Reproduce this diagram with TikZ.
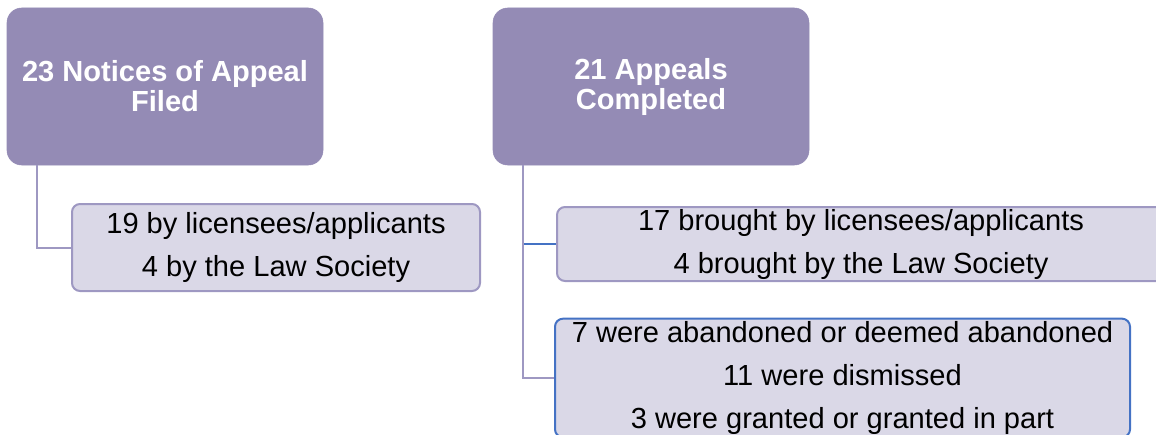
\documentclass[tikz,border=0pt]{standalone}
\usepackage{fontspec}
\setmainfont{Liberation Sans}
\definecolor{headfill}{RGB}{148,139,181}
\definecolor{subfill}{RGB}{218,216,231}
\definecolor{subline}{RGB}{158,152,194}
\definecolor{linkblue}{RGB}{68,114,196}
\tikzset{
	headbox/.style={fill=headfill, draw=headfill, rounded corners=11pt, text=white, align=center, inner sep=0pt,
		font=\fontsize{21.8}{22.5}\selectfont\bfseries, minimum width=237pt, minimum height=117.75pt},
	subbox/.style={fill=subfill, draw=subline, line width=1.5pt, rounded corners=6pt, align=center, inner sep=0pt,
		font=\fontsize{21.8}{32.25}\selectfont},
	link/.style={draw=subline, line width=1.5pt},
	bluelink/.style={draw=linkblue, line width=1.5pt}
}
\begin{document}
\begin{tikzpicture}[x=0.75pt, y=-0.75pt]
	\useasboundingbox (0,0) rectangle (1156,435);
	\node[headbox] (filed) at (165,86.5) {23 Notices of Appeal\\Filed};
	\node[headbox] (done) at (651,86.5) {21 Appeals\\Completed};
	\node[subbox, minimum width=306pt, minimum height=65.25pt] (filedby) at (276,247.5) {19 by licensees/applicants\\4 by the Law Society};
	\node[subbox, minimum width=456pt, minimum height=55.5pt] (doneby) at (861,244) {17 brought by licensees/applicants\\4 brought by the Law Society};
	\node[subbox, draw=linkblue, minimum width=431.25pt, minimum height=89pt] (outcome) at (842.5,378) {7 were abandoned or deemed abandoned\\11 were dismissed\\3 were granted or granted in part};
	\draw[link] ([xshift=22.5pt]filed.south west) |- (filedby.west);
	\draw[bluelink] ([xshift=22.5pt]done.south west) |- (doneby.west);
	\draw[link] ([xshift=22.5pt]done.south west) |- (outcome.west);
\end{tikzpicture}
\end{document}
